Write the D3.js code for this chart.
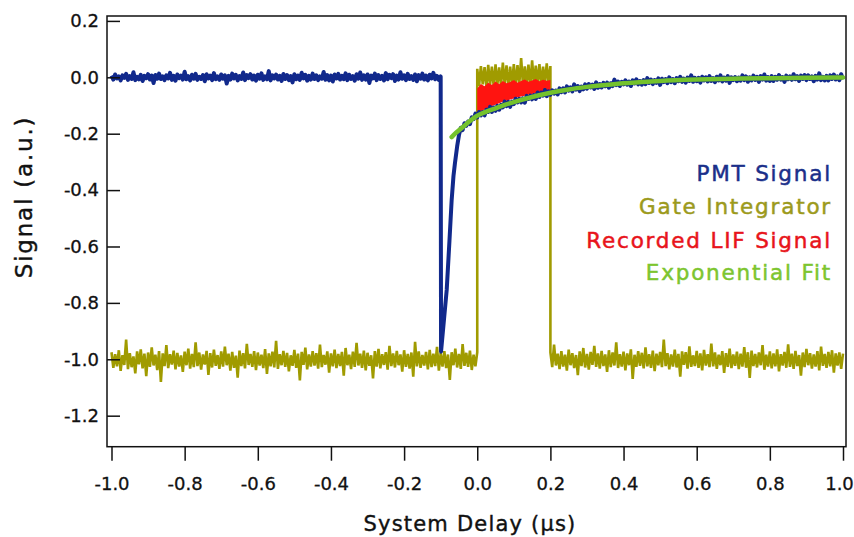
<!DOCTYPE html>
<html>
<head>
<meta charset="utf-8">
<script src="https://cdn.jsdelivr.net/npm/d3@7"></script>
<style>
  body { margin: 0; background: #fff; }
  svg { display: block; }
</style>
</head>
<body>
<svg id="chart"></svg>
<script>
// time base of the scope traces (µs per sample)
const dt = 0.005;

const xTicks = [-1.0, -0.8, -0.6, -0.4, -0.2, 0.0, 0.2, 0.4, 0.6, 0.8, 1.0];
const yTicks = [0.2, 0.0, -0.2, -0.4, -0.6, -0.8, -1.0, -1.2];

const legendLabels = ["PMT Signal", "Gate Integrator", "Recorded LIF Signal", "Exponential Fit"];

// PMT signal before the laser pulse, from -1.0 to -0.1 µs
const pmtPre = [
  0.006,-0.008,0.010,-0.004,0.003,-0.011,0.007,-0.002,0.012,-0.009,
  0.004,-0.006,0.018,-0.010,0.002,-0.007,0.009,-0.013,0.005,-0.003,
  0.011,-0.008,0.006,-0.020,0.008,-0.005,0.013,-0.006,0.003,-0.010,
  0.007,-0.004,0.016,-0.009,0.005,-0.012,0.010,-0.003,0.006,-0.008,
  0.020,-0.007,0.004,-0.011,0.009,-0.005,0.012,-0.009,0.002,-0.006,
  0.008,-0.014,0.011,-0.004,0.006,-0.010,0.015,-0.007,0.003,-0.009,
  0.010,-0.005,0.007,-0.022,0.005,-0.008,0.013,-0.004,0.009,-0.011,
  0.004,-0.006,0.017,-0.010,0.008,-0.003,0.011,-0.008,0.006,-0.012,
  0.009,-0.005,0.014,-0.009,0.003,-0.007,0.022,-0.011,0.007,-0.004,
  0.010,-0.008,0.005,-0.013,0.012,-0.006,0.008,-0.010,0.004,-0.018,
  0.011,-0.007,0.006,-0.009,0.016,-0.004,0.009,-0.012,0.005,-0.008,
  0.013,-0.006,0.007,-0.010,0.003,-0.005,0.019,-0.009,0.008,-0.011,
  0.006,-0.015,0.010,-0.004,0.012,-0.008,0.005,-0.007,0.014,-0.010,
  0.009,-0.006,0.004,-0.012,0.011,-0.005,0.017,-0.009,0.007,-0.008,
  0.010,-0.020,0.006,-0.004,0.013,-0.010,0.008,-0.006,0.005,-0.011,
  0.015,-0.007,0.009,-0.003,0.011,-0.013,0.006,-0.008,0.018,-0.005,
  0.007,-0.010,0.012,-0.006,0.004,-0.009,0.010,-0.014,0.008,-0.005,
  0.013,-0.008,0.006,-0.011,0.009,-0.004,0.016,-0.007,0.005,-0.009,
  0.003
];
const pmtPreStart = -1.0;

// the sharp dip and fast recovery
const pmtDipX = [-0.099, -0.0835, -0.076, -0.070, -0.065, -0.061, -0.055, -0.050];
const pmtDipY = [-0.973, -0.754, -0.580, -0.436, -0.350, -0.305, -0.245, -0.205];

// PMT decay, from -0.045 to 1.0 µs
const pmtPost = [
  -0.179,-0.187,-0.163,-0.172,-0.157,-0.166,-0.142,-0.148,-0.129,-0.142,
  -0.123,-0.135,-0.123,-0.135,-0.115,-0.123,-0.105,-0.123,-0.107,-0.119,
  -0.101,-0.115,-0.098,-0.107,-0.086,-0.102,-0.087,-0.105,-0.086,-0.095,
  -0.076,-0.089,-0.076,-0.089,-0.075,-0.090,-0.066,-0.077,-0.065,-0.078,
  -0.063,-0.077,-0.054,-0.070,-0.054,-0.065,-0.045,-0.067,-0.050,-0.062,
  -0.046,-0.058,-0.047,-0.061,-0.039,-0.053,-0.039,-0.054,-0.032,-0.047,
  -0.036,-0.050,-0.025,-0.044,-0.031,-0.049,-0.033,-0.043,-0.025,-0.040,
  -0.024,-0.036,-0.026,-0.041,-0.018,-0.037,-0.024,-0.036,-0.020,-0.032,
  -0.019,-0.037,-0.021,-0.031,-0.008,-0.028,-0.015,-0.031,-0.016,-0.025,
  -0.011,-0.026,-0.015,-0.031,-0.011,-0.022,-0.007,-0.025,-0.013,-0.026,
  -0.010,-0.024,-0.003,-0.020,-0.008,-0.024,-0.010,-0.020,-0.004,-0.027,
  -0.005,-0.017,-0.006,-0.021,0.000,-0.017,-0.006,-0.021,-0.003,-0.014,
  0.002,-0.016,-0.005,-0.019,-0.001,-0.013,0.007,-0.016,-0.002,-0.014,
  -0.002,-0.019,0.002,-0.011,0.000,-0.015,0.004,-0.013,-0.003,-0.017,
  0.002,-0.011,0.007,-0.015,-0.001,-0.012,0.004,-0.020,0.000,-0.010,
  0.001,-0.014,-0.001,-0.012,0.007,-0.010,0.003,-0.016,0.000,-0.011,
  0.006,-0.009,0.002,-0.016,0.004,-0.008,0.010,-0.012,0.001,-0.013,
  0.004,-0.013,0.002,-0.009,0.008,-0.008,0.001,-0.016,0.006,-0.007,
  0.003,-0.009,0.011,-0.007,0.004,-0.013,0.006,-0.006,0.008,-0.010,
  0.007,-0.006,0.003,-0.014,0.005,-0.008,0.014,-0.010,0.002,-0.011,
  0.005,-0.011,0.007,-0.006,0.010,-0.008,0.003,-0.010,0.011,-0.007
];
const pmtPostStart = -0.045;

// gate integrator output: closed (-1.0 to 0.0), open (0.0 to 0.2), closed (0.2 to 1.0)
const gatePre = [
  -0.975,-1.030,-0.982,-1.025,-0.968,-1.041,-0.985,-1.020,-0.930,-1.035,
  -0.978,-1.028,-0.990,-1.050,-0.972,-1.018,-0.965,-1.032,-0.980,-1.060,
  -0.976,-1.027,-0.958,-1.022,-0.984,-1.038,-0.971,-1.080,-0.979,-1.024,
  -0.950,-1.031,-0.982,-1.019,-0.969,-1.036,-0.977,-1.026,-0.986,-1.045,
  -0.973,-1.021,-0.962,-1.033,-0.981,-1.028,-0.940,-1.024,-0.976,-1.037,
  -0.983,-1.019,-0.970,-1.055,-0.978,-1.029,-0.966,-1.023,-0.985,-1.034,
  -0.972,-1.026,-0.955,-1.021,-0.980,-1.040,-0.974,-1.030,-0.987,-1.065,
  -0.969,-1.024,-0.978,-1.032,-0.945,-1.020,-0.981,-1.027,-0.971,-1.038,
  -0.976,-1.022,-0.984,-1.031,-0.964,-1.052,-0.979,-1.025,-0.973,-1.029,
  -0.935,-1.034,-0.982,-1.021,-0.970,-1.027,-0.977,-1.043,-0.986,-1.023,
  -0.967,-1.030,-0.980,-1.075,-0.974,-1.020,-0.959,-1.036,-0.983,-1.026,
  -0.971,-1.022,-0.978,-1.033,-0.948,-1.028,-0.985,-1.019,-0.972,-1.047,
  -0.979,-1.025,-0.966,-1.031,-0.981,-1.024,-0.974,-1.058,-0.960,-1.021,
  -0.984,-1.035,-0.973,-1.027,-0.942,-1.022,-0.980,-1.030,-0.969,-1.039,
  -0.977,-1.023,-0.986,-1.068,-0.971,-1.026,-0.963,-1.032,-0.982,-1.020,
  -0.975,-1.037,-0.952,-1.024,-0.979,-1.029,-0.970,-1.021,-0.983,-1.044,
  -0.968,-1.027,-0.981,-1.033,-0.976,-1.062,-0.938,-1.025,-0.972,-1.030,
  -0.985,-1.022,-0.974,-1.036,-0.967,-1.028,-0.980,-1.024,-0.956,-1.040,
  -0.978,-1.026,-0.971,-1.031,-0.983,-1.073,-0.975,-1.021,-0.962,-1.029,
  -0.981,-1.034,-0.946,-1.023,-0.977,-1.027,-0.969,-1.038,-0.984,-1.025,
  -0.975
];
const gateOpen = [
  0.030,-0.030,0.040,-0.025,0.036,-0.035,0.044,-0.028,0.038,-0.032,
  0.046,-0.026,0.035,-0.030,0.052,-0.024,0.042,-0.029,0.038,-0.027,
  0.047,-0.031,0.043,-0.022,0.068,-0.028,0.039,-0.025,0.045,-0.030,
  0.060,-0.026,0.041,-0.023,0.047,-0.027,0.038,-0.021,0.049,-0.024,
  0.040
];
const gatePost = [
  -0.975,-1.028,-0.948,-1.022,-0.980,-1.035,-0.971,-1.026,-0.984,-1.040,
  -0.966,-1.021,-0.978,-1.031,-0.985,-1.056,-0.972,-1.024,-0.960,-1.029,
  -0.981,-1.037,-0.974,-1.020,-0.952,-1.027,-0.979,-1.033,-0.970,-1.024,
  -0.983,-1.045,-0.968,-1.028,-0.976,-1.022,-0.940,-1.031,-0.982,-1.026,
  -0.973,-1.039,-0.979,-1.021,-0.965,-1.070,-0.984,-1.027,-0.971,-1.023,
  -0.977,-1.032,-0.958,-1.025,-0.982,-1.030,-0.969,-1.042,-0.980,-1.021,
  -0.974,-1.028,-0.930,-1.024,-0.978,-1.036,-0.983,-1.026,-0.966,-1.029,
  -0.981,-1.062,-0.972,-1.020,-0.975,-1.033,-0.954,-1.027,-0.986,-1.024,
  -0.970,-1.030,-0.979,-1.039,-0.967,-1.022,-0.982,-1.028,-0.944,-1.025,
  -0.976,-1.034,-0.984,-1.021,-0.971,-1.048,-0.978,-1.027,-0.962,-1.031,
  -0.983,-1.023,-0.973,-1.035,-0.980,-1.026,-0.957,-1.030,-0.975,-1.066,
  -0.969,-1.024,-0.981,-1.029,-0.976,-1.021,-0.950,-1.037,-0.984,-1.026,
  -0.972,-1.032,-0.979,-1.025,-0.965,-1.043,-0.982,-1.022,-0.974,-1.030,
  -0.947,-1.027,-0.980,-1.034,-0.970,-1.024,-0.985,-1.058,-0.976,-1.028,
  -0.963,-1.021,-0.978,-1.033,-0.983,-1.026,-0.971,-1.039,-0.955,-1.023,
  -0.981,-1.030,-0.974,-1.025,-0.968,-1.047,-0.979,-1.022,-0.976,-1.034,
  -0.980
];
const gateStarts = [-1.0, 0.0, 0.2];

// recorded LIF signal (PMT inside the gate window), 0.0 to 0.2 µs every 0.01
const lifStep = 0.01;
const lifTop = [
  -0.040,-0.024,-0.032,-0.019,-0.027,-0.015,-0.025,-0.013,-0.021,-0.017,
  -0.010,-0.019,-0.013,-0.008,-0.016,-0.011,-0.006,-0.014,-0.009,-0.012,-0.010
];
const lifBottom = [
  -0.128,-0.120,-0.114,-0.108,-0.102,-0.097,-0.092,-0.087,-0.083,-0.079,
  -0.075,-0.071,-0.068,-0.065,-0.062,-0.059,-0.056,-0.053,-0.051,-0.049,-0.047
];

// exponential fit
const fitX = [-0.07,-0.06,-0.05,-0.04,-0.03,-0.02,-0.01,0.0,0.025,0.05,0.075,0.1,0.15,0.2,0.25,0.3,0.35,0.4,0.45,0.5,0.6,0.7,0.8,0.9,1.0];
const fitY = [-0.212,-0.199,-0.188,-0.177,-0.166,-0.155,-0.145,-0.136,-0.122,-0.110,-0.098,-0.088,-0.070,-0.055,-0.043,-0.034,-0.027,-0.021,-0.017,-0.013,-0.008,-0.005,-0.003,-0.002,-0.001];

const width = 854;
const height = 537;
const colors = { pmt: "#11298c", gate: "#a09b00", lif: "#ff1410", fit: "#74c22c" };
const legendColors = ["#1a2f8a", "#9c9a1c", "#e8141b", "#7dc52f"];
const font = "'DejaVu Sans', sans-serif";

const x = d3.scaleLinear().domain([-1.0123, 1.0082]).range([107, 846]);
const y = d3.scaleLinear().domain([-1.31, 0.2174]).range([446.7, 16]);

const sampled = (vals, t0, step) => vals.map((v, i) => [t0 + i * step, v]);

const pmtData = sampled(pmtPre, pmtPreStart, dt)
  .concat(pmtDipX.map((t, i) => [t, pmtDipY[i]]))
  .concat(sampled(pmtPost, pmtPostStart, dt));
const gateData = sampled(gatePre, gateStarts[0], dt)
  .concat(sampled(gateOpen, gateStarts[1], dt))
  .concat(sampled(gatePost, gateStarts[2], dt));
const lifData = lifTop.map((v, i) => ({ t: i * lifStep, top: v, bottom: lifBottom[i] }));
const fitData = fitX.map((t, i) => [t, fitY[i]]);

const svg = d3.select("#chart")
  .attr("width", width)
  .attr("height", height)
  .attr("viewBox", [0, 0, width, height])
  .style("font-family", font);

const line = d3.line().x(d => x(d[0])).y(d => y(d[1]));

svg.append("path")
  .datum(gateData)
  .attr("d", line)
  .attr("fill", "none")
  .attr("stroke", colors.gate)
  .attr("stroke-width", 2.6)
  .attr("stroke-linejoin", "bevel");

svg.append("path")
  .datum(lifData)
  .attr("d", d3.area().x(d => x(d.t)).y0(d => y(d.bottom)).y1(d => y(d.top)))
  .attr("fill", colors.lif);

svg.append("path")
  .datum(pmtData)
  .attr("d", line)
  .attr("fill", "none")
  .attr("stroke", colors.pmt)
  .attr("stroke-width", 4)
  .attr("stroke-linejoin", "round");

svg.append("path")
  .datum(fitData)
  .attr("d", line.curve(d3.curveMonotoneX))
  .attr("fill", "none")
  .attr("stroke", colors.fit)
  .attr("stroke-width", 4.5)
  .attr("stroke-linecap", "round");

// frame
svg.append("rect")
  .attr("x", 107).attr("y", 16)
  .attr("width", 846 - 107).attr("height", 446.7 - 16)
  .attr("fill", "none")
  .attr("stroke", "#111")
  .attr("stroke-width", 1.5);

const fmt = d3.format(".1f");
const label = v => fmt(v).replace("−", "-");

const xAxis = svg.append("g")
  .attr("transform", `translate(0,${446.7})`)
  .call(d3.axisBottom(x).tickValues(xTicks).tickFormat(label).tickSize(14).tickSizeOuter(0).tickPadding(17));
const yAxis = svg.append("g")
  .attr("transform", `translate(107,0)`)
  .call(d3.axisLeft(y).tickValues(yTicks).tickFormat(label).tickSize(-13).tickSizeOuter(0).tickPadding(8));

[xAxis, yAxis].forEach(g => {
  g.select(".domain").remove();
  g.selectAll(".tick line").attr("stroke", "#111").attr("stroke-width", 1.5);
  g.selectAll(".tick text")
    .attr("fill", "#111")
    .attr("stroke", "#111")
    .attr("stroke-width", 0.3)
    .style("font-size", "18px")
    .style("font-family", font);
});
// the last label sits at the very edge of the page
xAxis.selectAll(".tick text").filter(d => d === 1.0).attr("dx", -4);

svg.append("text")
  .attr("x", 470).attr("y", 531)
  .attr("text-anchor", "middle")
  .attr("fill", "#111")
  .attr("stroke", "#111")
  .attr("stroke-width", 0.4)
  .style("font-size", "21px")
  .style("letter-spacing", "1.2px")
  .text("System Delay (µs)");

svg.append("text")
  .attr("transform", "translate(32,197) rotate(-90)")
  .attr("text-anchor", "middle")
  .attr("fill", "#111")
  .attr("stroke", "#111")
  .attr("stroke-width", 0.4)
  .style("font-size", "23px")
  .style("letter-spacing", "1.8px")
  .text("Signal (a.u.)");

const legendY = [181, 214, 248, 280];
svg.append("g")
  .selectAll("text")
  .data(legendLabels)
  .join("text")
  .attr("x", 832)
  .attr("y", (d, i) => legendY[i])
  .attr("text-anchor", "end")
  .attr("fill", (d, i) => legendColors[i])
  .attr("stroke", (d, i) => legendColors[i])
  .attr("stroke-width", 0.5)
  .style("font-size", "21.5px")
  .style("letter-spacing", "1.8px")
  .text(d => d);
</script>
</body>
</html>
